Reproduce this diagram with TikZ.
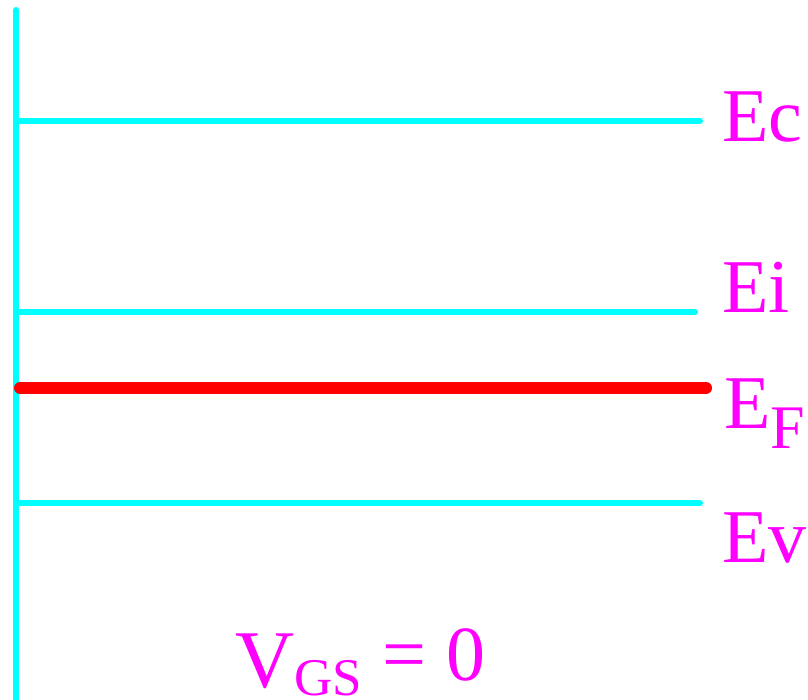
\documentclass[tikz,border=0pt]{standalone}
\usepackage{fontspec}
\setmainfont{Liberation Serif}
\usetikzlibrary{positioning}
\definecolor{bandcyan}{RGB}{0,255,255}
\definecolor{lblmag}{RGB}{255,0,255}

\begin{document}
\begin{tikzpicture}[
  x=1pt, y=-1pt,
  band/.style={draw=bandcyan, line width=6pt, line cap=round},
  fermi/.style={draw=red, line width=12pt, line cap=round},
  lbl/.style={text=lblmag, inner sep=0pt, anchor=base west,
    font=\fontsize{76}{76}\selectfont}
]
\useasboundingbox (0,0) rectangle (808,700);
% axis and band edges
\coordinate (top) at (16,10);
\coordinate (bot) at (16,706);
\coordinate (ecL) at (16,121);  \coordinate (ecR) at (700,121);
\coordinate (eiL) at (16,312);  \coordinate (eiR) at (695,312);
\coordinate (efL) at (20,388);  \coordinate (efR) at (706,388);
\coordinate (evL) at (16,503);  \coordinate (evR) at (700,503);
\draw[band] (top) -- (bot);
\draw[band] (ecL) -- (ecR);
\draw[band] (eiL) -- (eiR);
\draw[band] (evL) -- (evR);
\draw[fermi] (efL) -- (efR);
% labels
\node[lbl] (ec) at (722,142) {Ec};
\node[lbl] (ei) at (722,313) {Ei};
\node[lbl] (ef) at (724,428)
  {E\raisebox{-20pt}{\fontsize{62}{62}\selectfont F}};
\node[lbl] (ev) at (722,562) {Ev};
\node[lbl, font=\fontsize{82}{82}\selectfont] (vgs) at (235,687)
  {V\raisebox{-8pt}{\fontsize{53}{53}\selectfont GS}
   \raisebox{7pt}{\fontsize{78}{78}\selectfont = 0}};
\end{tikzpicture}
\end{document}
